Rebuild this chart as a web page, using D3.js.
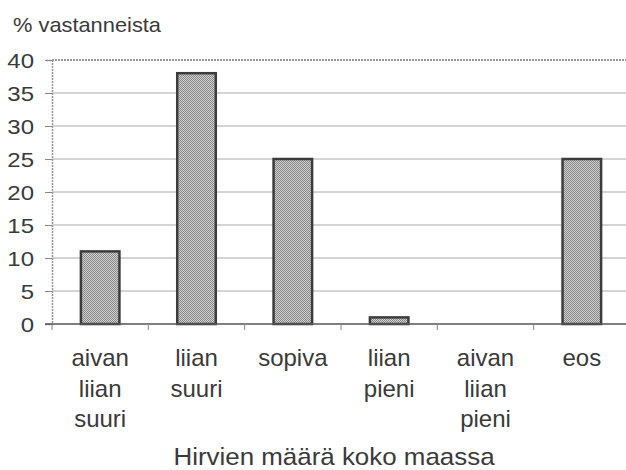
<!DOCTYPE html>
<html>
<head>
<meta charset="utf-8">
<script src="https://cdn.jsdelivr.net/npm/d3@7"></script>
<style>
  body { margin: 0; background: #fff; }
  svg text { font-family: "Liberation Sans", Arial, sans-serif; fill: #3a3a3a; }
</style>
</head>
<body>
<div id="chart"></div>
<script>
// data
const categories = ['aivan liian suuri', 'liian suuri', 'sopiva', 'liian pieni', 'aivan liian pieni', 'eos'];
const values = [11, 38, 25, 1, 0, 25];
const yTicks = [0, 5, 10, 15, 20, 25, 30, 35, 40];
const yTitle = '% vastanneista';
const xTitle = 'Hirvien määrä koko maassa';

const width = 626, height = 470;
const margin = {top: 60, right: -4, bottom: 146, left: 52};

const svg = d3.select('#chart').append('svg')
    .attr('width', width)
    .attr('height', height);

// dotted fill for the bars
const defs = svg.append('defs');
const pat = defs.append('pattern')
    .attr('id', 'dots')
    .attr('width', 2).attr('height', 2)
    .attr('patternUnits', 'userSpaceOnUse');
pat.append('rect').attr('width', 2).attr('height', 2).attr('fill', '#d0d0d0');
pat.append('rect').attr('width', 1).attr('height', 1).attr('fill', '#888');
pat.append('rect').attr('x', 1).attr('y', 1).attr('width', 1).attr('height', 1).attr('fill', '#888');

// band scale (no padding) for ticks, bars sit in the middle 40%
const x = d3.scaleBand()
    .domain(categories)
    .range([margin.left, width - margin.right]);
const y = d3.scaleLinear()
    .domain([0, 40])
    .range([height - margin.bottom, margin.top]);

// gridlines
svg.append('g')
    .selectAll('line')
    .data(yTicks.filter(d => d > 0))
    .enter().append('line')
    .attr('x1', margin.left)
    .attr('x2', width)
    .attr('y1', d => y(d))
    .attr('y2', d => y(d))
    .attr('stroke', d => d === 40 ? '#777' : '#aaa')
    .attr('stroke-width', d => d === 40 ? 1.5 : 1)
    .attr('stroke-dasharray', d => d === 40 ? '2,1' : null);

// y axis
const yAxis = d3.axisLeft(y)
    .tickValues(yTicks)
    .tickSize(7)
    .tickPadding(0)
    .tickFormat(d => d);
const gy = svg.append('g')
    .attr('transform', `translate(${margin.left},0)`)
    .call(yAxis);
gy.select('.domain').attr('stroke', '#999').attr('stroke-width', 1.5).attr('stroke-dasharray', '2,1');
gy.selectAll('.tick line').attr('stroke', '#888');
gy.selectAll('.tick text')
    .attr('x', null)
    .attr('font-size', 20)
    .attr('text-anchor', 'end')
    .attr('transform', 'translate(-18,0) scale(1.2,1)')
    .attr('dy', '0.35em');

// bars
svg.append('g')
    .selectAll('rect')
    .data(categories.map((c, i) => ({c, v: values[i]})))
    .enter().append('rect')
    .filter(d => d.v > 0)
    .attr('x', d => x(d.c) + x.bandwidth() * 0.3)
    .attr('y', d => y(d.v))
    .attr('width', x.bandwidth() * 0.4)
    .attr('height', d => y(0) - y(d.v))
    .attr('fill', 'url(#dots)')
    .attr('stroke', '#3c3c3c')
    .attr('stroke-width', 2.5);

// x axis (zero line with ticks at band edges)
svg.append('line')
    .attr('x1', margin.left - 7).attr('x2', width)
    .attr('y1', y(0)).attr('y2', y(0))
    .attr('stroke', '#555').attr('stroke-width', 1.5);
svg.append('g')
    .selectAll('line')
    .data(categories)
    .enter().append('line')
    .attr('x1', d => x(d)).attr('x2', d => x(d))
    .attr('y1', y(0)).attr('y2', y(0) + 6)
    .attr('stroke', '#888');

// category labels, one word per line
const lab = svg.append('g')
    .selectAll('text')
    .data(categories)
    .enter().append('text')
    .attr('font-size', 24)
    .attr('text-anchor', 'middle')
    .attr('transform', d => `translate(${x(d) + x.bandwidth() / 2},366)`);
lab.selectAll('tspan')
    .data(d => d.split(' '))
    .enter().append('tspan')
    .attr('x', 0)
    .attr('y', (d, i) => i * 30.5)
    .text(d => d);

// titles
svg.append('text')
    .attr('font-size', 21)
    .attr('transform', 'translate(13,32) scale(1.04,1)')
    .text(yTitle);
svg.append('text')
    .attr('font-size', 24)
    .attr('text-anchor', 'middle')
    .attr('transform', 'translate(334,465) scale(1.08,1)')
    .text(xTitle);
</script>
</body>
</html>
